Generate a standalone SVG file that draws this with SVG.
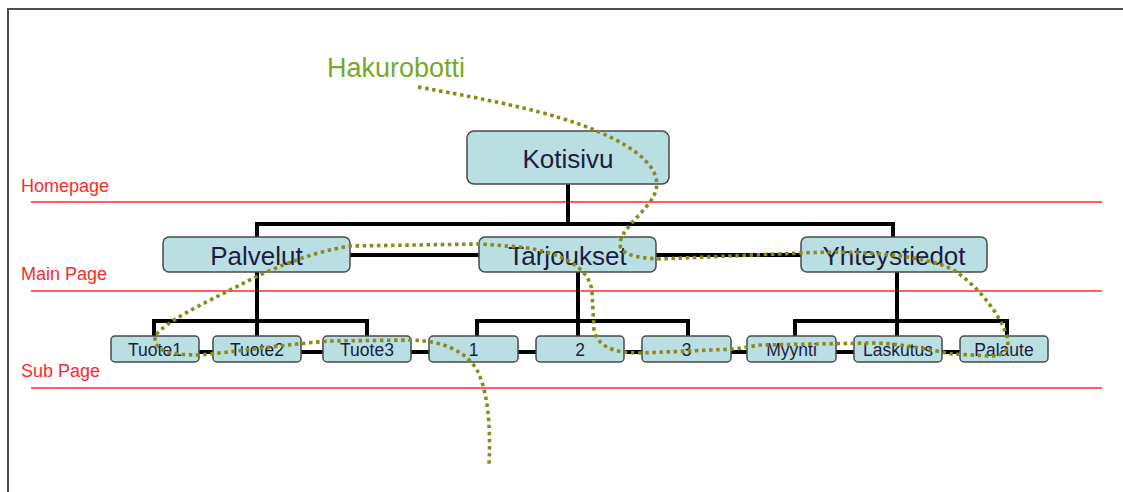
<svg xmlns="http://www.w3.org/2000/svg" width="1123" height="492" viewBox="0 0 1123 492">
<style>
.node rect{fill:#b9dfe3;stroke:#4a4a4a;stroke-width:1.5}
.node text{font-family:"Liberation Sans",Arial,sans-serif;fill:#1c1c40;text-anchor:middle}
.big text{font-size:26px}
.small text{font-size:17.5px}
.conn{stroke:#000;stroke-width:4;fill:none;stroke-linecap:square}
.level{stroke:#ff2a2a;stroke-width:1.3}
.lvl{font-family:"Liberation Sans",Arial,sans-serif;font-size:18px;fill:#ff2a2a}
.crawl{fill:none;stroke:#8a8a1c;stroke-width:3.6;stroke-dasharray:3.5 3.6}
</style>
<rect x="0" y="0" width="1123" height="492" fill="#fff"/>
<g id="frame" stroke="#4d4d4d" stroke-width="2" fill="none">
<line x1="8" y1="9" x2="1123" y2="9"/>
<line x1="8" y1="8" x2="8" y2="492"/>
</g>
<g id="levels">
<line class="level" x1="31" y1="202" x2="1102" y2="202"/>
<line class="level" x1="31" y1="291" x2="1102" y2="291"/>
<line class="level" x1="31" y1="388" x2="1102" y2="388" stroke="#ff7878"/>
<text class="lvl" x="21" y="192">Homepage</text>
<text class="lvl" x="21" y="280">Main Page</text>
<text class="lvl" x="21" y="377">Sub Page</text>
</g>
<text x="327" y="77" font-family="'Liberation Sans',Arial,sans-serif" font-size="27" fill="#78a82a">Hakurobotti</text>
<g id="connectors" class="conn">
<path d="M568,184V224M257,237V224H893V237"/>
<path d="M350,255H479M656,255H801"/>
<path d="M257,272V321M154,336V321H367V336M257,321V336"/>
<path d="M578,272V321M477,336V321H688V336M578,321V336"/>
<path d="M897,272V321M795,336V321H1007V336M897,321V336"/>
<path d="M199,352H213M301,352H323M411,352H429M518,352H536M624,352H642M731,352H747M836,352H854M942,352H960"/>
</g>
<g id="kotisivu" class="node big"><rect x="467" y="131" width="202" height="53" rx="7"/><text x="568" y="168">Kotisivu</text></g>
<g id="palvelut" class="node big"><rect x="163" y="237" width="187" height="35" rx="6"/><text x="256.5" y="265">Palvelut</text></g>
<g id="tarjoukset" class="node big"><rect x="479" y="237" width="177" height="35" rx="6"/><text x="567.5" y="265">Tarjoukset</text></g>
<g id="yhteystiedot" class="node big"><rect x="801" y="237" width="186" height="35" rx="6"/><text x="894" y="265">Yhteystiedot</text></g>
<g id="tuote1" class="node small"><rect x="111" y="336" width="88" height="26" rx="4"/><text x="155" y="356">Tuote1</text></g>
<g id="tuote2" class="node small"><rect x="213" y="336" width="88" height="26" rx="4"/><text x="257" y="356">Tuote2</text></g>
<g id="tuote3" class="node small"><rect x="323" y="336" width="88" height="26" rx="4"/><text x="367" y="356">Tuote3</text></g>
<g id="t1" class="node small"><rect x="429" y="336" width="89" height="26" rx="4"/><text x="473.5" y="356">1</text></g>
<g id="t2" class="node small"><rect x="536" y="336" width="88" height="26" rx="4"/><text x="580" y="356">2</text></g>
<g id="t3" class="node small"><rect x="642" y="336" width="89" height="26" rx="4"/><text x="686.5" y="356">3</text></g>
<g id="myynti" class="node small"><rect x="747" y="336" width="89" height="26" rx="4"/><text x="791.5" y="356">Myynti</text></g>
<g id="laskutus" class="node small"><rect x="854" y="336" width="88" height="26" rx="4"/><text x="898" y="356">Laskutus</text></g>
<g id="palaute" class="node small"><rect x="960" y="336" width="88" height="26" rx="4"/><text x="1004" y="356">Palaute</text></g>
<g id="crawler-path">
<path class="crawl" d="M418,87 C520,105 572,118 612,138 C648,156 668,178 650,202 C638,218 622,230 620,243 C619,254 635,258 660,259 L800,253 C868,250 930,256 955,271 C980,288 1000,315 1007,336 C1010,350 1005,356 990,356 L952,354 C930,350 900,343 870,343 L760,345 L735,349 L640,353 C612,353 598,346 594,330 L592,292 C590,268 562,252 520,247 L480,244 L350,246 C312,252 272,268 240,285 C200,305 165,322 155,336 C154,350 166,355 200,355 C250,350 290,344 330,341 L411,340 C445,341 466,352 477,370 C487,390 491,420 489,465"/>
</g>
</svg>
